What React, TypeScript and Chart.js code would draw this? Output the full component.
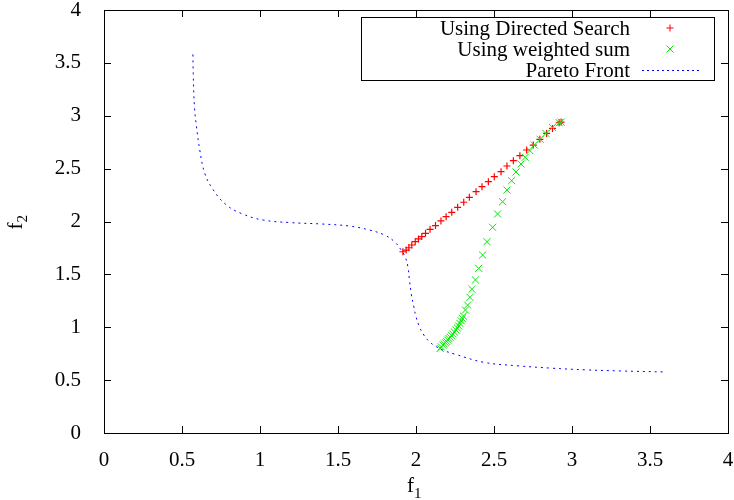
import { useEffect, useRef } from 'react';
import { Chart, registerables } from 'chart.js';

Chart.register(...registerables);

const directedX = [1.916, 1.937, 1.954, 1.973, 1.995, 2.016, 2.037, 2.061, 2.09, 2.125, 2.16, 2.193, 2.229, 2.267, 2.306, 2.342, 2.385, 2.423, 2.464, 2.502, 2.545, 2.583, 2.624, 2.666, 2.709, 2.752, 2.794, 2.837, 2.875, 2.918, 2.93];
const directedY = [1.714, 1.73, 1.752, 1.778, 1.809, 1.835, 1.857, 1.888, 1.926, 1.961, 2.005, 2.046, 2.087, 2.134, 2.182, 2.229, 2.282, 2.329, 2.377, 2.424, 2.471, 2.525, 2.575, 2.622, 2.676, 2.723, 2.777, 2.833, 2.88, 2.934, 2.94];

const weightedX = [2.155, 2.162, 2.172, 2.18, 2.189, 2.196, 2.204, 2.212, 2.219, 2.228, 2.236, 2.246, 2.257, 2.265, 2.274, 2.281, 2.289, 2.297, 2.304, 2.317, 2.331, 2.346, 2.359, 2.381, 2.402, 2.427, 2.455, 2.491, 2.523, 2.555, 2.583, 2.613, 2.641, 2.673, 2.7, 2.73, 2.758, 2.796, 2.833, 2.875, 2.918, 2.93];
const weightedY = [0.80, 0.815, 0.832, 0.843, 0.854, 0.866, 0.879, 0.892, 0.905, 0.92, 0.936, 0.955, 0.974, 0.993, 1.012, 1.037, 1.062, 1.084, 1.106, 1.163, 1.21, 1.283, 1.359, 1.447, 1.557, 1.683, 1.809, 1.945, 2.071, 2.187, 2.298, 2.386, 2.468, 2.544, 2.607, 2.67, 2.723, 2.777, 2.833, 2.89, 2.934, 2.94];

const paretoX = [0.57, 0.572, 0.58, 0.593, 0.614, 0.646, 0.70, 0.785, 0.89, 1.02, 1.19, 1.40, 1.574, 1.70, 1.798, 1.862, 1.905, 1.93, 1.948, 1.958, 1.969, 1.986, 2.0, 2.022, 2.05, 2.086, 2.13, 2.182, 2.246, 2.437, 2.655, 2.87, 3.09, 3.306, 3.60];
const paretoY = [3.58, 3.40, 3.08, 2.897, 2.676, 2.456, 2.30, 2.156, 2.07, 2.014, 1.99, 1.976, 1.957, 1.92, 1.872, 1.809, 1.73, 1.667, 1.573, 1.447, 1.321, 1.194, 1.10, 1.005, 0.927, 0.863, 0.816, 0.778, 0.747, 0.668, 0.635, 0.613, 0.597, 0.587, 0.577];

const axisTicks = [0, 0.5, 1, 1.5, 2, 2.5, 3, 3.5, 4];
const legendLabels = ['Using Directed Search', 'Using weighted sum', 'Pareto Front'];

const RED = 'rgb(255,0,0)';
const GREEN = 'rgb(0,235,0)';
const BLUE = 'rgb(0,0,255)';
const FONT = '"Liberation Serif", "Times New Roman", serif';

const toPts = (xs: number[], ys: number[]) => xs.map((x, i) => ({ x, y: ys[i] }));

const framePlugin = {
  id: 'gnuplotFrame',
  afterDraw(chart: any) {
    const { ctx, chartArea: a, scales } = chart;
    ctx.save();
    ctx.strokeStyle = '#000';
    ctx.lineWidth = 1;
    ctx.strokeRect(a.left + 0.5, a.top + 0.5, a.right - a.left, a.bottom - a.top);
    const tl = 7;
    ctx.beginPath();
    for (const t of scales.x.ticks) {
      const px = Math.round(scales.x.getPixelForValue(t.value)) + 0.5;
      ctx.moveTo(px, a.bottom);
      ctx.lineTo(px, a.bottom - tl);
      ctx.moveTo(px, a.top);
      ctx.lineTo(px, a.top + tl);
    }
    for (const t of scales.y.ticks) {
      const py = Math.round(scales.y.getPixelForValue(t.value)) + 0.5;
      ctx.moveTo(a.left, py);
      ctx.lineTo(a.left + tl, py);
      ctx.moveTo(a.right, py);
      ctx.lineTo(a.right - tl, py);
    }
    ctx.stroke();

    // axis titles with subscripts
    ctx.fillStyle = '#000';
    ctx.textBaseline = 'alphabetic';
    ctx.textAlign = 'left';
    const cx = (a.left + a.right) / 2;
    ctx.font = `21px ${FONT}`;
    ctx.fillText('f', cx - 9, 492);
    ctx.font = `15px ${FONT}`;
    ctx.fillText('1', cx - 2, 498);
    const cy = (a.top + a.bottom) / 2;
    ctx.save();
    ctx.translate(22, cy + 8);
    ctx.rotate(-Math.PI / 2);
    ctx.font = `21px ${FONT}`;
    ctx.fillText('f', 0, 0);
    ctx.font = `15px ${FONT}`;
    ctx.fillText('2', 7, 5);
    ctx.restore();

    // legend
    const lx0 = a.right - 367;
    const lx1 = a.right - 14;
    const ly0 = a.top + 7;
    const ly1 = a.top + 70;
    ctx.fillStyle = '#fff';
    ctx.fillRect(lx0, ly0, lx1 - lx0, ly1 - ly0);
    ctx.strokeStyle = '#000';
    ctx.lineWidth = 1;
    ctx.strokeRect(lx0 + 0.5, ly0 + 0.5, lx1 - lx0, ly1 - ly0);
    ctx.font = `21px ${FONT}`;
    ctx.textAlign = 'right';
    ctx.textBaseline = 'alphabetic';
    ctx.fillStyle = '#000';
    const rows = [ly0 + 11, ly0 + 32, ly0 + 53];
    const textRight = lx0 + 269;
    const sx = lx0 + 309;
    legendLabels.forEach((lab, i) => ctx.fillText(lab, textRight, rows[i] + 7));
    ctx.lineWidth = 1;
    ctx.strokeStyle = RED;
    ctx.beginPath();
    ctx.moveTo(sx - 3.5, rows[0]);
    ctx.lineTo(sx + 3.5, rows[0]);
    ctx.moveTo(sx, rows[0] - 3.5);
    ctx.lineTo(sx, rows[0] + 3.5);
    ctx.stroke();
    ctx.strokeStyle = GREEN;
    ctx.beginPath();
    ctx.moveTo(sx - 3.5, rows[1] - 3.5);
    ctx.lineTo(sx + 3.5, rows[1] + 3.5);
    ctx.moveTo(sx - 3.5, rows[1] + 3.5);
    ctx.lineTo(sx + 3.5, rows[1] - 3.5);
    ctx.stroke();
    ctx.strokeStyle = BLUE;
    ctx.setLineDash([2, 3]);
    ctx.beginPath();
    ctx.moveTo(sx - 28, rows[2] + 0.5);
    ctx.lineTo(sx + 29, rows[2] + 0.5);
    ctx.stroke();
    ctx.restore();
  },
};

export default function App() {
  const ref = useRef<HTMLCanvasElement>(null);
  useEffect(() => {
    if (!ref.current) return;
    const chart = new Chart(ref.current, {
      type: 'scatter',
      data: {
        datasets: [
          {
            label: 'Using Directed Search',
            data: toPts(directedX, directedY),
            pointStyle: 'cross',
            pointRadius: 3.5,
            borderColor: RED,
            backgroundColor: RED,
            borderWidth: 1.2,
            showLine: false,
            order: 3,
          },
          {
            label: 'Using weighted sum',
            data: toPts(weightedX, weightedY),
            pointStyle: 'crossRot',
            pointRadius: 5,
            borderColor: GREEN,
            backgroundColor: GREEN,
            borderWidth: 1,
            showLine: false,
            order: 2,
          },
          {
            label: 'Pareto Front',
            data: toPts(paretoX, paretoY),
            showLine: true,
            borderColor: BLUE,
            borderWidth: 1,
            borderDash: [2, 4],
            pointRadius: 0,
            tension: 0.4,
            order: 1,
          },
        ],
      },
      options: {
        animation: false,
        responsive: false,
        layout: { padding: { top: 10, right: 5, left: 0, bottom: 0 } },
        plugins: { legend: { display: false }, tooltip: { enabled: false } },
        scales: {
          x: {
            type: 'linear',
            min: 0,
            max: 4,
            afterBuildTicks: (s: any) => { s.ticks = axisTicks.map((v) => ({ value: v })); },
            ticks: { font: { family: FONT, size: 21 }, color: '#000', padding: 7, callback: (v: any) => String(v), maxRotation: 0 },
            grid: { display: false },
            border: { display: false },
            afterFit: (s: any) => { s.height = 67; s.paddingLeft = 0; s.paddingRight = 0; },
          },
          y: {
            type: 'linear',
            min: 0,
            max: 4,
            afterBuildTicks: (s: any) => { s.ticks = axisTicks.map((v) => ({ value: v })); },
            ticks: { font: { family: FONT, size: 21 }, color: '#000', padding: 15, callback: (v: any) => String(v) },
            grid: { display: false },
            border: { display: false },
            afterFit: (s: any) => { s.width = 104; s.paddingTop = 0; s.paddingBottom = 0; },
          },
        },
      },
      plugins: [framePlugin],
    });
    return () => chart.destroy();
  }, []);
  return (
    <div style={{ position: 'fixed', left: 0, top: 0, width: 734, height: 500, background: '#fff' }}>
      <canvas ref={ref} width={734} height={500} style={{ width: 734, height: 500 }} />
    </div>
  );
}
